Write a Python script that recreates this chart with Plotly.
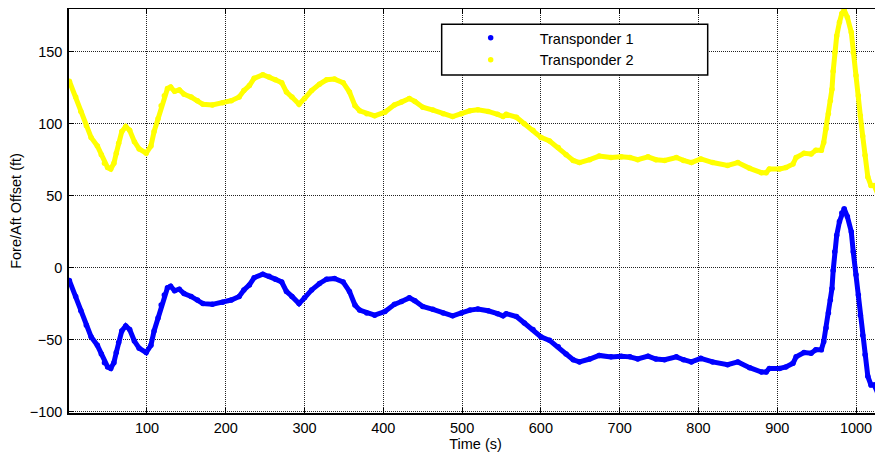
import plotly.graph_objects as go

time_s = [1.5, 9.5, 16, 23, 29, 37, 42, 46, 50, 54, 58, 61, 64, 68, 73, 78, 84, 90, 99, 105,
          109, 114, 118, 122, 126, 130, 135, 141, 147, 156, 164, 171, 183, 196, 207, 217, 223, 230, 236, 247,
          255, 263, 271, 277, 284, 293, 300, 309, 319, 328, 338, 349, 357, 364, 370, 379, 389, 402, 414, 423,
          433, 440, 450, 463, 476, 488, 499, 510, 520, 533, 545, 552, 556, 569, 579, 590, 600, 611, 622, 632,
          641, 649, 662, 674, 689, 702, 713, 723, 736, 746, 757, 772, 781, 791, 803, 818, 837, 850, 865, 880,
          886, 890, 903, 911, 920, 924, 934, 943, 949, 956, 959, 962, 965, 967.5, 969.5, 971, 973, 975.5, 979, 982,
          985, 989, 994, 996.5, 1000, 1003, 1005.5, 1008.5, 1011.5, 1015, 1019, 1023, 1027.5, 1031.5]

transponder1_ft = [-9, -20, -30, -40, -48, -54, -60, -66, -69, -70, -66, -59, -52, -44, -40.5, -43, -51, -56, -59, -54,
                   -44, -35, -26, -19, -14, -13, -16, -15, -18, -20, -22.5, -25, -25.5, -24, -22.5, -20, -15.5, -12, -7, -4.6,
                   -6, -8, -10, -16.5, -20, -25, -21, -15.5, -11, -8, -7.5, -10, -16.5, -26, -29.5, -31.5, -33, -30.5, -25.5, -23.5,
                   -21, -23, -27, -29, -31.5, -33.5, -31.5, -29.5, -28.8, -30, -32, -33.5, -32, -34, -38.5, -43, -48, -50.5, -55, -60,
                   -64, -65.5, -63.5, -61, -62, -61.5, -62, -63.5, -61.5, -63.5, -64, -62, -64, -65.5, -63, -65.5, -67.5, -65.5, -69.5, -72.5,
                   -72.5, -70, -70, -69, -66.5, -62, -59, -59.5, -57, -57, -51.5, -42, -31.5, -22.5, -14.5, -2, 11, 22.5, 32, 38,
                   41, 35.5, 25, 11, -5, -19, -33, -47, -60.5, -75.5, -81.5, -81.5, -87, -95.5]

transponder2_ft = [129.5, 118.5, 108.5, 98.5, 90.5, 84.5, 78.5, 72.5, 69.5, 68.5, 72.5, 79.5, 86.5, 94.5, 98, 95.5, 87.5, 82.5, 79.5, 84.5,
                   94.5, 103.5, 112.5, 119.5, 124.5, 125.5, 122.5, 123.5, 120.5, 118.5, 116, 113.5, 113, 114.5, 116, 118.5, 123, 126.5, 131.5, 134,
                   132.5, 130.5, 128.5, 122, 118.5, 113.5, 117.5, 123, 127.5, 130.5, 131, 128.5, 122, 112.5, 109, 107, 105.5, 108, 113, 115,
                   117.5, 115.5, 111.5, 109.5, 107, 105, 107, 109, 109.7, 108.5, 106.5, 105, 106.5, 104.5, 100, 95.5, 90.5, 88, 83.5, 78.5,
                   74.5, 73, 75, 77.5, 76.5, 77, 76.5, 75, 77, 75, 74.5, 76.5, 74.5, 73, 75.5, 73, 71, 73, 69, 66,
                   66, 68.5, 68.5, 69.5, 72, 76.5, 79.5, 79, 81.5, 81.5, 87, 96.5, 107, 116, 124, 136.5, 149.5, 161, 170.5, 176.5,
                   179, 174, 163.5, 149.5, 133.5, 119.5, 105.5, 91.5, 78, 63, 57, 57, 51.5, 43]

series_names = ["Transponder 1", "Transponder 2"]
series_colors = ["#0000FF", "#FFFF00"]

x_ticks = [100, 200, 300, 400, 500, 600, 700, 800, 900, 1000]
y_ticks = [-100, -50, 0, 50, 100, 150]

FONT = "Liberation Sans, Arial, sans-serif"
FS = 14.5

fig = go.Figure()
for name, vals, color in zip(series_names, [transponder1_ft, transponder2_ft], series_colors):
    fig.add_trace(go.Scatter(x=time_s, y=vals, mode="lines", line=dict(color=color, width=5),
                             showlegend=False, hoverinfo="skip"))
for name, vals, color in zip(series_names, [transponder1_ft, transponder2_ft], series_colors):
    fig.add_trace(go.Scatter(x=time_s, y=vals, mode="markers", marker=dict(color=color, size=5.5),
                             name=name))

axis_common = dict(
    showline=True, linecolor="black", linewidth=1.5, mirror="ticks",
    ticks="inside", ticklen=5, tickcolor="black", tickwidth=1,
    showgrid=True, gridcolor="#222222", gridwidth=1, griddash="1px,1px",
    zeroline=False, automargin=False,
    tickfont=dict(family=FONT, size=FS, color="black"),
)

# legend box (drawn as a shape so its size matches the original)
fig.add_shape(type="rect", xref="paper", yref="paper",
              x0=0.4584, x1=0.7856, y0=0.8366, y1=0.9621,
              fillcolor="white", line=dict(color="black", width=1.5), layer="above")

fig.update_layout(
    width=875, height=444,
    margin=dict(l=61, r=1, t=1, b=39),
    paper_bgcolor="white", plot_bgcolor="white",
    font=dict(family=FONT, size=FS, color="black"),
    xaxis=dict(range=[1, 1033], tickvals=x_ticks, ticklabelstandoff=1,
               title=dict(text="Time (s)", standoff=7, font=dict(family=FONT, size=FS)),
               **axis_common),
    yaxis=dict(range=[-101, 179.7], tickvals=y_ticks,
               title=dict(text="Fore/Aft Offset (ft)", standoff=6, font=dict(family=FONT, size=FS)),
               ticklabelstandoff=2,
               **axis_common),
    legend=dict(x=0.4584, y=0.968, xanchor="left", yanchor="top",
                bgcolor="rgba(0,0,0,0)", borderwidth=0,
                itemwidth=88, tracegroupgap=0,
                font=dict(family=FONT, size=FS, color="black")),
    showlegend=True,
)

fig.write_html("out.html")
